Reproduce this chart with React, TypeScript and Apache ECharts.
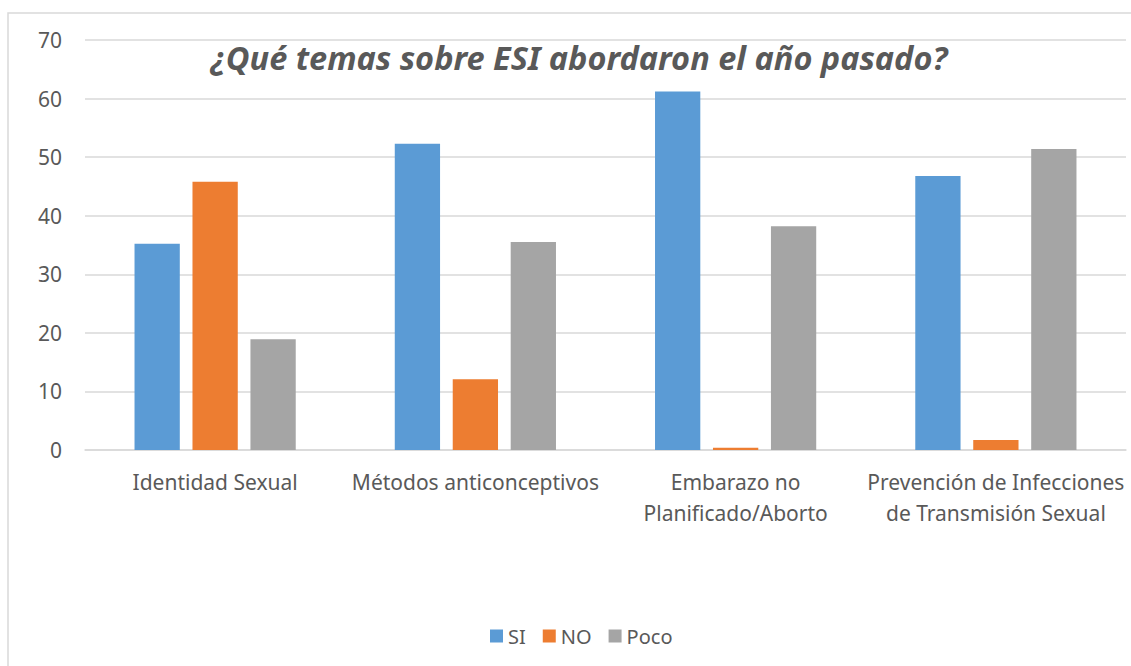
import React, { useEffect, useRef } from "react";
import * as echarts from "echarts";

const categories = [
  "Identidad Sexual",
  "Métodos anticonceptivos",
  "Embarazo no\nPlanificado/Aborto",
  "Prevención de Infecciones\nde Transmisión Sexual",
];
const siValues = [35.2, 52.3, 61.2, 46.8];
const noValues = [45.8, 12.1, 0.4, 1.7];
const pocoValues = [18.9, 35.5, 38.2, 51.4];
const titleText = "¿Qué temas sobre ESI abordaron el año pasado?";

export default function App() {
  const ref = useRef<HTMLDivElement>(null);
  useEffect(() => {
    if (!ref.current) return;
    const chart = echarts.init(ref.current, null, { renderer: "svg" });
    const font = "'Noto Sans', sans-serif";
    chart.setOption({
      animation: false,
      backgroundColor: "#ffffff",
      title: {
        text: titleText,
        left: 574,
        top: 36,
        textAlign: "center",
        textStyle: {
          fontFamily: font,
          fontSize: 32.5,
          fontWeight: "bold",
          fontStyle: "italic",
          color: "#595959",
        },
      },
      graphic: [
        {
          type: "rect",
          shape: { x: 8, y: 13, width: 1140, height: 670 },
          style: { fill: "none", stroke: "#d9d9d9", lineWidth: 1.5 },
          silent: true,
          z: -1,
        },
      ],
      legend: {
        top: 621,
        left: 485,
        itemWidth: 13,
        itemHeight: 13,
        itemGap: 17,
        icon: "rect",
        textStyle: { fontFamily: font, fontSize: 20, color: "#595959" },
        data: ["SI", "NO", "Poco"],
      },
      grid: { left: 85, right: 5, top: 40, bottom: 216 },
      xAxis: {
        type: "category",
        data: categories,
        axisTick: { show: false },
        axisLine: { lineStyle: { color: "#d9d9d9", width: 1.5 } },
        axisLabel: {
          fontFamily: font,
          fontSize: 21,
          color: "#595959",
          margin: 16,
          lineHeight: 31,
          interval: 0,
        },
      },
      yAxis: {
        type: "value",
        min: 0,
        max: 70,
        interval: 10,
        axisLine: { show: false },
        axisTick: { show: false },
        splitLine: { lineStyle: { color: "#d9d9d9", width: 1.5 } },
        axisLabel: {
          fontFamily: font,
          fontSize: 21,
          color: "#595959",
          margin: 23,
        },
      },
      series: [
        { name: "SI", type: "bar", data: siValues, barWidth: "17.4%", barGap: "28%", itemStyle: { color: "#5b9bd5" } },
        { name: "NO", type: "bar", data: noValues, barWidth: "17.4%", barGap: "28%", itemStyle: { color: "#ed7d31" } },
        { name: "Poco", type: "bar", data: pocoValues, barWidth: "17.4%", barGap: "28%", itemStyle: { color: "#a5a5a5" } },
      ],
    });
    return () => chart.dispose();
  }, []);
  return (
    <div
      ref={ref}
      style={{ position: "fixed", left: 0, top: 0, width: 1131, height: 666 }}
    />
  );
}
